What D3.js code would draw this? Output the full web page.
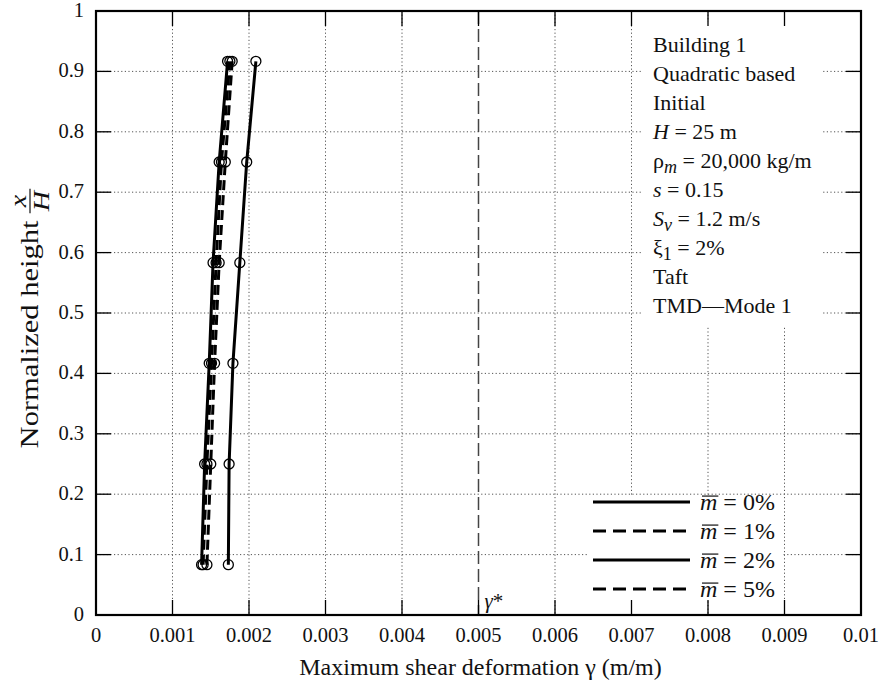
<!DOCTYPE html>
<html>
<head>
<meta charset="utf-8">
<script src="https://cdn.jsdelivr.net/npm/d3@7"></script>
<style>
  html, body { margin: 0; padding: 0; background: #fff; }
  svg { display: block; }
  text { font-family: "Liberation Serif", "Times New Roman", serif; fill: #111; }
</style>
</head>
<body>
<svg id="chart" width="882" height="682"></svg>
<script>
// Normalized heights at which the shear deformation was evaluated
const heights = [0.0833, 0.25, 0.4167, 0.5833, 0.75, 0.9167];

// Maximum shear deformation (m/m) for each TMD mass ratio
const gammaM0 = [0.00173, 0.00174, 0.00179, 0.00188, 0.00197, 0.00209];
const gammaM1 = [0.00145, 0.00150, 0.00155, 0.00161, 0.00169, 0.00178];
const gammaM2 = [0.00138, 0.00142, 0.00148, 0.00153, 0.00161, 0.00172];
const gammaM5 = [0.00140, 0.00145, 0.00151, 0.00157, 0.00164, 0.00175];

const seriesLabels = ["0%", "1%", "2%", "5%"];
const seriesDashed = [false, true, false, true];
const seriesValues = [gammaM0, gammaM1, gammaM2, gammaM5];

// Allowable shear deformation
const gammaStar = 0.005;

const xTicks = [0, 0.001, 0.002, 0.003, 0.004, 0.005, 0.006, 0.007, 0.008, 0.009, 0.01];
const yTicks = [0, 0.1, 0.2, 0.3, 0.4, 0.5, 0.6, 0.7, 0.8, 0.9, 1];

const svg = d3.select("#chart");
const pLeft = 96, pRight = 861, pTop = 11, pBottom = 615;

const x = d3.scaleLinear().domain([0, 0.01]).range([pLeft, pRight]);
const y = d3.scaleLinear().domain([0, 1]).range([pBottom, pTop]);

// Dotted grid
const grid = svg.append("g");
grid.selectAll("line.gx")
  .data(xTicks.filter(t => t > 0 && t < 0.01 && Math.abs(t - gammaStar) > 1e-9))
  .join("line")
  .attr("x1", d => x(d)).attr("x2", d => x(d))
  .attr("y1", pTop).attr("y2", pBottom)
  .attr("stroke", "#555").attr("stroke-width", 1)
  .attr("stroke-dasharray", "1.2,2.4");
grid.selectAll("line.gy")
  .data(yTicks.filter(t => t > 0 && t < 1))
  .join("line")
  .attr("x1", pLeft).attr("x2", pRight)
  .attr("y1", d => y(d)).attr("y2", d => y(d))
  .attr("stroke", "#555").attr("stroke-width", 1)
  .attr("stroke-dasharray", "1.2,2.4");

// Limit line gamma*
svg.append("line")
  .attr("x1", x(gammaStar)).attr("x2", x(gammaStar))
  .attr("y1", pTop).attr("y2", pBottom)
  .attr("stroke", "#444").attr("stroke-width", 1.5)
  .attr("stroke-dasharray", "13,5");
svg.append("text")
  .attr("x", x(gammaStar) + 6).attr("y", pBottom - 7)
  .attr("font-size", 21)
  .call(t => {
    t.append("tspan").attr("font-style", "italic").text("γ");
    t.append("tspan").text("*");
  });

// White panels behind the annotation block and the legend
svg.append("rect").attr("x", 643).attr("y", 22).attr("width", 179).attr("height", 305).attr("fill", "#fff");
svg.append("rect").attr("x", 588).attr("y", 497).attr("width", 194).attr("height", 102).attr("fill", "#fff");

// Axes: ticks point inward on all four sides
const tickLen = 15;
const axisG = svg.append("g").attr("stroke", "#000").attr("stroke-width", 1.3);
xTicks.forEach(t => {
  axisG.append("line").attr("x1", x(t)).attr("x2", x(t)).attr("y1", pBottom).attr("y2", pBottom - tickLen);
  axisG.append("line").attr("x1", x(t)).attr("x2", x(t)).attr("y1", pTop).attr("y2", pTop + tickLen);
});
yTicks.forEach(t => {
  axisG.append("line").attr("x1", pLeft).attr("x2", pLeft + tickLen).attr("y1", y(t)).attr("y2", y(t));
  axisG.append("line").attr("x1", pRight).attr("x2", pRight - tickLen).attr("y1", y(t)).attr("y2", y(t));
});
svg.append("rect")
  .attr("x", pLeft).attr("y", pTop).attr("width", pRight - pLeft).attr("height", pBottom - pTop)
  .attr("fill", "none").attr("stroke", "#000").attr("stroke-width", 2.2);

// Tick labels
const fmt = d => d === 0 ? "0" : d3.format("~g")(d);
svg.append("g").selectAll("text")
  .data(xTicks).join("text")
  .attr("x", d => x(d)).attr("y", pBottom + 27)
  .attr("text-anchor", "middle").attr("font-size", 20.5)
  .text(d => d === 0.01 ? "0.01" : fmt(+d.toFixed(3)));
svg.append("g").selectAll("text")
  .data(yTicks).join("text")
  .attr("x", pLeft - 12).attr("y", d => y(d) + 6)
  .attr("text-anchor", "end").attr("font-size", 20.5)
  .text(d => fmt(+d.toFixed(1)));

// Axis titles
svg.append("text")
  .attr("x", (pLeft + pRight) / 2 + 2).attr("y", 675)
  .attr("text-anchor", "middle").attr("font-size", 24)
  .text("Maximum shear deformation γ (m/m)");

// Vertical title, slightly elongated along its reading direction
const yTitle = svg.append("g");
const yInner = yTitle.append("g");
const yMain = yInner.append("text").attr("font-size", 25).attr("x", 0).attr("y", 0).text("Normalized height");
const mainLen = yMain.node().getComputedTextLength();
const fx = mainLen + 16;
yInner.append("text").attr("x", fx).attr("y", -12).attr("text-anchor", "middle")
  .attr("font-size", 23).attr("font-style", "italic").text("x");
yInner.append("line").attr("x1", fx - 10).attr("x2", fx + 10).attr("y1", -8).attr("y2", -8)
  .attr("stroke", "#111").attr("stroke-width", 1.2);
yInner.append("text").attr("x", fx).attr("y", 11).attr("text-anchor", "middle")
  .attr("font-size", 23).attr("font-style", "italic").text("H");
const stretch = 1.22;
const totalLen = (fx + 11) * stretch;
yInner.attr("transform", `scale(${stretch},1)`);
yTitle.attr("transform", `translate(38, ${318 + totalLen / 2}) rotate(-90)`);

// Series lines and markers
const line = d3.line().x(d => x(d[0])).y(d => y(d[1]));
seriesValues.forEach((vals, i) => {
  const pts = vals.map((v, j) => [v, heights[j]]);
  svg.append("path")
    .attr("d", line(pts))
    .attr("fill", "none").attr("stroke", "#000").attr("stroke-width", 3)
    .attr("stroke-dasharray", seriesDashed[i] ? "10,5" : null);
  svg.append("g").selectAll("circle")
    .data(pts).join("circle")
    .attr("cx", d => x(d[0])).attr("cy", d => y(d[1])).attr("r", 5)
    .attr("fill", "none").attr("stroke", "#000").attr("stroke-width", 1.3);
});

// Annotation block
const notes = svg.append("text").attr("font-size", 22);
const noteLines = [
  [["Building 1", ""]],
  [["Quadratic based", ""]],
  [["Initial", ""]],
  [["H", "i"], [" = 25 m", ""]],
  [["ρ", ""], ["m", "isub"], [" = 20,000 kg/m", ""]],
  [["s", "i"], [" = 0.15", ""]],
  [["S", "i"], ["ν", "isub"], [" = 1.2 m/s", ""]],
  [["ξ", ""], ["1", "sub"], [" = 2%", ""]],
  [["Taft", ""]],
  [["TMD—Mode 1", ""]]
];
noteLines.forEach((parts, k) => {
  const base = 52 + k * 29;
  parts.forEach((p, n) => {
    const ts = notes.append("tspan").text(p[0]);
    if (n === 0) ts.attr("x", 653).attr("y", base);
    if (p[1] === "i" || p[1] === "isub") ts.attr("font-style", "italic");
    if (p[1] === "isub" || p[1] === "sub") ts.attr("dy", 5).attr("font-size", 18);
    if (n > 0 && (parts[n - 1][1] === "isub" || parts[n - 1][1] === "sub")) ts.attr("dy", -5);
  });
});

// Legend
const legend = svg.append("g");
const legendFont = 24;
seriesLabels.forEach((lab, i) => {
  const ly = 502 + i * 29;
  legend.append("line")
    .attr("x1", 593).attr("x2", 690).attr("y1", ly).attr("y2", ly)
    .attr("stroke", "#000").attr("stroke-width", 3)
    .attr("stroke-dasharray", seriesDashed[i] ? "13,7" : null);
  const t = legend.append("text").attr("x", 700).attr("y", ly + 8).attr("font-size", legendFont);
  const mSpan = t.append("tspan").attr("font-style", "italic").text("m");
  t.append("tspan").text(" = " + lab);
  const mLen = mSpan.node().getComputedTextLength();
  legend.append("line")
    .attr("x1", 700 + 2).attr("x2", 700 + mLen + 1)
    .attr("y1", ly + 8 - legendFont * 0.58).attr("y2", ly + 8 - legendFont * 0.58)
    .attr("stroke", "#111").attr("stroke-width", 1.2);
});
</script>
</body>
</html>
